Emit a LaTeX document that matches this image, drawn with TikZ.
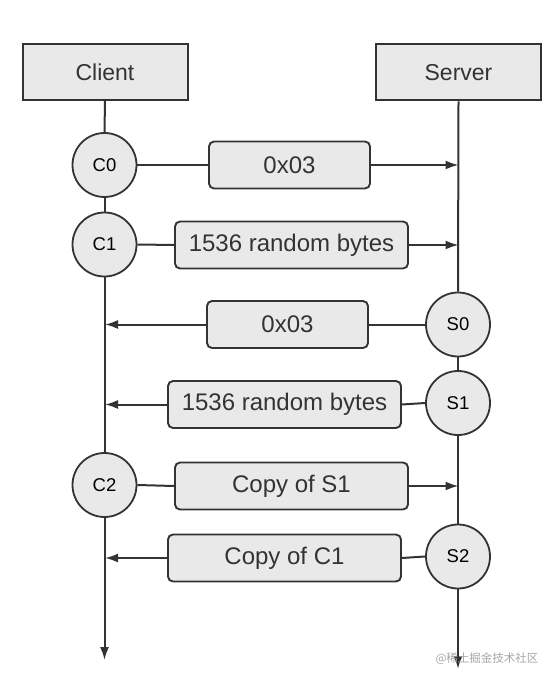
\documentclass[tikz,border=0pt]{standalone}
\usepackage{fontspec}
\setmainfont{Liberation Sans}
\newfontfamily\cjk{Noto Sans CJK SC}
\usetikzlibrary{arrows.meta}
\definecolor{boxfill}{HTML}{E9E9E9}
\definecolor{edge}{HTML}{333333}
\definecolor{txt}{HTML}{333333}
\begin{document}
\begin{tikzpicture}[x=1pt,y=-1pt,
  actor/.style={draw=edge,line width=2pt,fill=boxfill,minimum width=165pt,minimum height=56pt,inner sep=0pt,text=txt,font=\fontsize{23}{26}\selectfont},
  state/.style={circle,draw=edge,line width=1.8pt,fill=boxfill,minimum size=64pt,inner sep=0pt,text=black,font=\fontsize{18.5}{21}\selectfont},
  msg/.style={draw=edge,line width=1.9pt,fill=boxfill,rounded corners=5pt,minimum height=47pt,inner sep=0pt,text=txt,font=\fontsize{24}{27}\selectfont},
  wire/.style={draw=edge,line width=2pt},
  arr/.style={wire,-{Latex[length=13pt,width=9pt]}}]
\useasboundingbox (0,0) rectangle (557,684);
% lifeline heads
\node[actor] (client) at (105,72) {Client};
\node[actor] (server) at (458.5,72.5) {Server};
% states
\node[state] (c0) at (104.5,165) {C0};
\node[state] (c1) at (104.5,244.5) {C1};
\node[state] (c2) at (104.5,485) {C2};
\node[state] (s0) at (458,324.5) {S0};
\node[state] (s1) at (458,403) {S1};
\node[state] (s2) at (458,556.5) {S2};
% messages
\node[msg,minimum width=161pt] (m1) at (289.5,165) {0x03};
\node[msg,minimum width=233pt] (m2) at (291.5,245) {1536 random bytes};
\node[msg,minimum width=161pt] (m3) at (287.5,324.5) {0x03};
\node[msg,minimum width=233pt] (m4) at (284.5,404.5) {1536 random bytes};
\node[msg,minimum width=233pt] (m5) at (291.5,486) {Copy of S1};
\node[msg,minimum width=233pt] (m6) at (284.5,558) {Copy of C1};
% lifeline ends
\coordinate (cend) at (104.5,660);
\coordinate (send) at (458,669);
% lifelines
\draw[wire] (client.south) -- (c0.north);
\draw[wire] (c0.south) -- (c1.north);
\draw[wire] (c1.south) -- (c2.north);
\draw[arr] (c2.south) -- (cend);
\draw[wire] (server.south) -- (s0.north);
\draw[wire] (s0.south) -- (s1.north);
\draw[wire] (s1.south) -- (s2.north);
\draw[arr] (s2.south) -- (send);
% client to server
\draw[wire] (c0.east) -- (m1.west);
\draw[arr] (m1.east) -- (m1.east -| server.south);
\draw[wire] (c1.east) -- (m2.west);
\draw[arr] (m2.east) -- (m2.east -| server.south);
\draw[wire] (c2.east) -- (m5.west);
\draw[arr] (m5.east) -- (m5.east -| server.south);
% server to client
\draw[wire] (s0.west) -- (m3.east);
\draw[arr] (m3.west) -- (m3.west -| client.south);
\draw[wire] (s1.west) -- (m4.east);
\draw[arr] (m4.west) -- (m4.west -| client.south);
\draw[wire] (s2.west) -- (m6.east);
\draw[arr] (m6.west) -- (m6.west -| client.south);
% watermark
\node[text=black!35,font=\cjk\fontsize{11.5}{13}\selectfont,inner sep=0pt] (wm) at (487,659) {@稀土掘金技术社区};
\end{tikzpicture}
\end{document}
